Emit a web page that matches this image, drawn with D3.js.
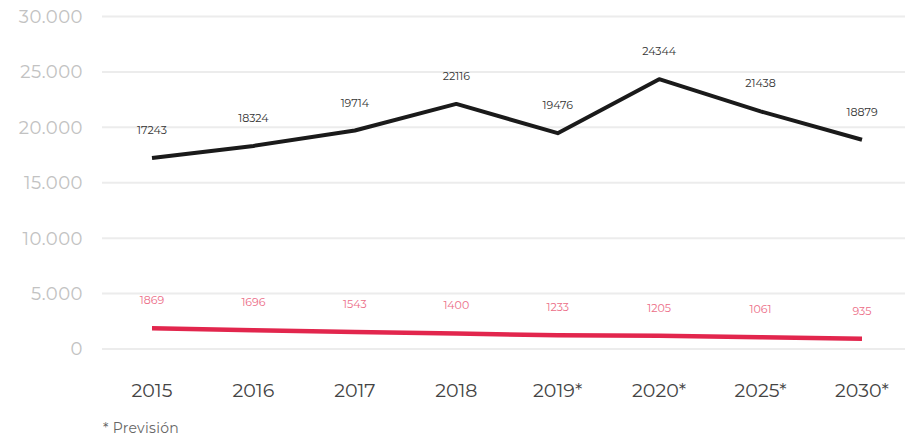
<!doctype html>
<meta charset="utf-8">
<title>Previsión</title>
<script src="https://cdn.jsdelivr.net/npm/d3@7"></script>
<style>
  body { margin: 0; background: #fff; }
  svg text { font-family: "Montserrat", "DejaVu Sans", sans-serif; }
</style>
<body>
<div id="chart"></div>
<script>
    var years = ['2015', '2016', '2017', '2018', '2019*', '2020*', '2025*', '2030*']
        , blackValues = [17243, 18324, 19714, 22116, 19476, 24344, 21438, 18879]
        , redValues = [1869, 1696, 1543, 1400, 1233, 1205, 1061, 935]
        , yTicks = [0, 5000, 10000, 15000, 20000, 25000, 30000];

    var width = 907, height = 438;

    var svg = d3.select('#chart').append('svg')
            .attr('width', width)
            .attr('height', height);

    var x = d3.scalePoint().domain(years).range([152, 862]);
    var y = d3.scaleLinear().domain([0, 30000]).range([349, 16.5]);

    // gridlines + y labels
    var fmt = function(d) { return d3.format(',')(d).replace(/,/g, '.'); };

    svg.selectAll('line.grid')
            .data(yTicks)
            .enter().append('line')
            .attr('class', 'grid')
            .attr('x1', 102).attr('x2', 905)
            .attr('y1', function(d) { return y(d); })
            .attr('y2', function(d) { return y(d); })
            .style('stroke', '#ececec')
            .style('stroke-width', 2);

    svg.selectAll('text.ytick')
            .data(yTicks)
            .enter().append('text')
            .attr('class', 'ytick')
            .attr('x', 83)
            .attr('y', function(d) { return y(d); })
            .attr('dy', '0.36em')
            .attr('text-anchor', 'end')
            .style('font-size', '18px')
            .style('letter-spacing', '0.5px')
            .style('fill', '#c2c2c2')
            .text(fmt);

    // x labels
    svg.selectAll('text.xtick')
            .data(years)
            .enter().append('text')
            .attr('class', 'xtick')
            .attr('x', function(d) { return x(d); })
            .attr('y', 397)
            .attr('text-anchor', 'middle')
            .style('font-size', '19px')
            .style('fill', '#444')
            .text(function(d) { return d; });

    svg.append('text')
            .attr('x', 103).attr('y', 433)
            .style('font-size', '14px')
            .style('letter-spacing', '0.3px')
            .style('fill', '#666')
            .text('* Previsión');

    function drawSeries(values, color, labelColor, w) {
        var pts = years.map(function(d, i) { return [x(d), y(values[i])]; });
        svg.append('path')
                .datum(pts)
                .attr('d', d3.line())
                .style('fill', 'none')
                .style('stroke', color)
                .style('stroke-width', w)
                .style('stroke-linejoin', 'round');

        svg.selectAll(null)
                .data(values)
                .enter().append('text')
                .attr('x', function(d, i) { return x(years[i]); })
                .attr('y', function(d) { return y(d) - 24; })
                .attr('text-anchor', 'middle')
                .style('font-size', '11px')
                .style('fill', labelColor)
                .text(function(d) { return d; });
    }

    drawSeries(blackValues, '#1a1a1a', '#333', 4);
    drawSeries(redValues, '#e2264d', '#ec6d87', 4.5);
</script>
</body>
